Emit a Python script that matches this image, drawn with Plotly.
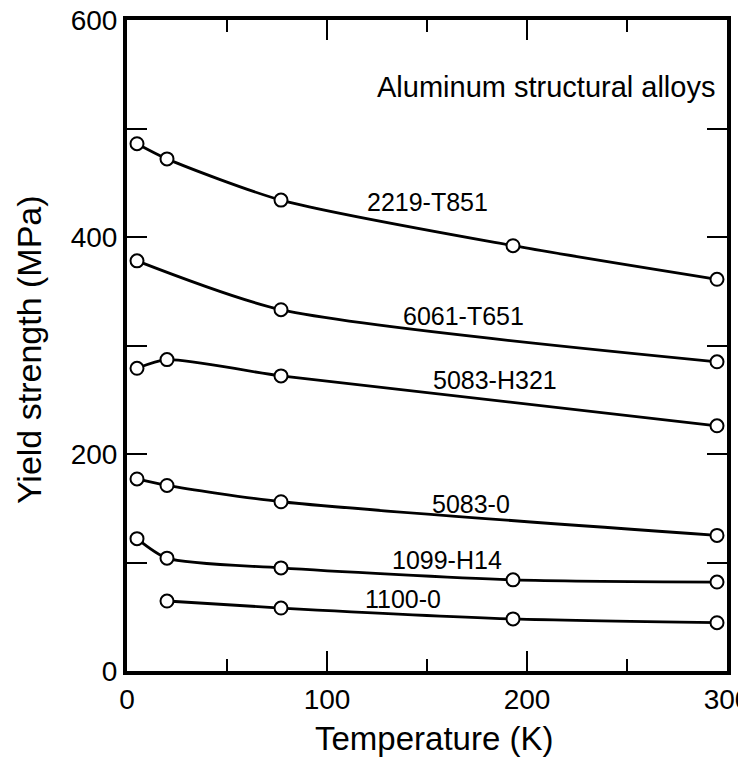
import plotly.graph_objects as go

# Temperatures (K) at which data points are plotted
temps = [5, 20, 77, 193, 295]

# Yield strength (MPa) per alloy (None = no point at that temperature)
alloy_2219_T851 = [486, 472, 434, 392, 361]
alloy_6061_T651 = [378, None, 333, None, 285]
alloy_5083_H321 = [279, 287, 272, None, 226]
alloy_5083_0 = [177, 171, 156, None, 125]
alloy_1099_H14 = [122, 104, 95, 84, 82]
alloy_1100_0 = [None, 64.5, 58, 48, 44.5]

series = [
    ("2219-T851", alloy_2219_T851),
    ("6061-T651", alloy_6061_T651),
    ("5083-H321", alloy_5083_H321),
    ("5083-0", alloy_5083_0),
    ("1099-H14", alloy_1099_H14),
    ("1100-0", alloy_1100_0),
]

# Curve label positions (data coords)
label_x = [150, 168, 184, 172, 160, 138]
label_y = [432, 327, 268, 154, 102, 66]

FONT = "Liberation Sans, Arial, Helvetica, sans-serif"

fig = go.Figure()
for name, vals in series:
    xs = [t for t, v in zip(temps, vals) if v is not None]
    ys = [v for v in vals if v is not None]
    fig.add_trace(go.Scatter(
        x=xs, y=ys, mode="lines+markers", name=name,
        line=dict(color="black", width=2.8, shape="spline", smoothing=0.7),
        marker=dict(symbol="circle", size=13, color="white",
                    line=dict(color="black", width=2)),
        showlegend=False, cliponaxis=False,
    ))

for (name, _), lx, ly in zip(series, label_x, label_y):
    fig.add_annotation(x=lx, y=ly, text=name, showarrow=False,
                       font=dict(family=FONT, size=25, color="black"))

fig.add_annotation(x=1, xref="paper", xanchor="right", xshift=-10,
                   y=538, text="Aluminum structural alloys", showarrow=False,
                   font=dict(family=FONT, size=29, color="black"))

# Axis titles as annotations for exact placement
fig.add_annotation(x=0.512, y=-0.103, xref="paper", yref="paper",
                   xanchor="center", yanchor="middle",
                   text="Temperature (K)", showarrow=False,
                   font=dict(family=FONT, size=33, color="black"))
fig.add_annotation(x=-0.1633, y=0.493, xref="paper", yref="paper",
                   xanchor="center", yanchor="middle",
                   text="Yield strength (MPa)", showarrow=False, textangle=-90,
                   font=dict(family=FONT, size=34, color="black"))

fig.update_layout(
    width=738, height=759,
    margin=dict(l=127, r=11, t=20, b=88, autoexpand=False),
    paper_bgcolor="white", plot_bgcolor="white",
    font=dict(family=FONT, color="black"),
)

fig.update_xaxes(
    range=[0, 300], tickvals=[0, 100, 200, 300],
    ticks="inside", ticklen=20, tickwidth=2, tickcolor="black",
    minor=dict(dtick=50, ticks="inside", ticklen=12, tickwidth=2, tickcolor="black"),
    showline=True, linecolor="black", linewidth=4, mirror="allticks",
    showgrid=False, zeroline=False, ticklabeloverflow="allow", automargin=False,
    tickfont=dict(family=FONT, size=28, color="black"),
)
fig.update_yaxes(
    range=[0, 600], tickvals=[0, 100, 200, 300, 400, 500, 600],
    ticktext=["0", "", "200", "", "400", "", "600"],
    ticks="inside", ticklen=20, tickwidth=2, tickcolor="black",
    showline=True, linecolor="black", linewidth=4, mirror="allticks",
    showgrid=False, zeroline=False, ticklabeloverflow="allow", automargin=False,
    tickfont=dict(family=FONT, size=28, color="black"),
)

fig.write_html("out.html")
